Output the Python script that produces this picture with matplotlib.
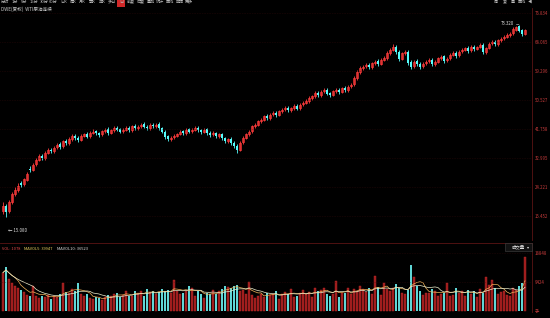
import pandas as pd
import matplotlib
matplotlib.use('Agg')
from matplotlib import pyplot as plt
from matplotlib.patches import Rectangle

plt.rcParams['font.family'] = ['Noto Sans CJK SC', 'DejaVu Sans']

# K线数据
opens = [17.0, 18.6, 16.9, 19.8, 22.1, 23.3, 25.3, 25.0, 26.4, 29.8,
         29.5, 31.1, 32.5, 33.7, 33.0, 34.6, 35.5, 35.1, 36.2, 37.1,
         36.5, 38.1, 37.5, 38.7, 39.6, 39.0, 38.5, 39.7, 40.2, 39.5,
         40.7, 41.1, 40.5, 40.1, 41.2, 41.7, 40.6, 41.5, 42.2, 41.7,
         41.1, 41.6, 42.2, 41.5, 42.7, 42.1, 42.6, 43.2, 42.5, 42.1,
         43.1, 42.7, 43.2, 42.1, 41.0, 39.5, 38.7, 39.2, 39.7, 40.2,
         41.1, 40.5, 41.7, 41.1, 41.6, 42.2, 41.5, 41.0, 41.7, 40.6,
         40.1, 40.7, 39.6, 40.2, 39.0, 38.1, 38.7, 37.5, 36.6, 35.5,
         37.7, 39.1, 40.2, 41.1, 42.7, 43.1, 44.2, 44.6, 45.7, 45.1,
         46.2, 46.7, 46.1, 47.2, 47.7, 48.2, 47.5, 48.1, 48.7, 48.0,
         49.2, 49.7, 50.2, 51.1, 51.7, 52.7, 52.0, 53.1, 53.7, 52.5,
         52.1, 53.2, 53.7, 53.0, 54.2, 53.5, 54.7, 55.3, 57.2, 59.1,
         60.2, 60.7, 61.2, 60.5, 61.7, 62.2, 61.5, 62.7, 63.2, 64.7,
         65.7, 66.7, 65.1, 63.0, 64.7, 65.0, 61.9, 60.7, 62.2, 61.5,
         60.7, 61.6, 62.2, 62.7, 61.5, 62.1, 63.2, 63.7, 62.5, 63.1,
         64.2, 64.7, 64.0, 65.2, 65.7, 66.2, 65.5, 66.7, 66.0, 66.6,
         67.2, 65.0, 66.2, 67.7, 68.2, 67.5, 68.7, 69.2, 69.7, 70.2,
         70.7, 71.8, 72.8, 71.6, 70.5]
closes = [18.5, 16.8, 19.6, 22.0, 23.4, 24.6, 24.9, 26.5, 28.1, 29.4,
          31.0, 32.4, 33.6, 32.9, 34.5, 35.4, 35.0, 36.1, 37.0, 36.4,
          38.0, 37.4, 38.6, 39.5, 38.9, 38.4, 39.6, 40.1, 39.4, 40.6,
          41.0, 40.4, 40.0, 41.1, 41.6, 40.5, 41.4, 42.1, 41.6, 41.0,
          41.5, 42.1, 41.4, 42.6, 42.0, 42.5, 43.1, 42.4, 42.0, 43.0,
          42.6, 43.1, 42.0, 40.9, 39.4, 38.6, 39.1, 39.6, 40.1, 41.0,
          40.4, 41.6, 41.0, 41.5, 42.1, 41.4, 40.9, 41.6, 40.5, 40.0,
          40.6, 39.5, 40.1, 38.9, 38.0, 38.6, 37.4, 36.5, 35.4, 37.6,
          39.0, 40.1, 41.0, 42.6, 43.0, 44.1, 44.5, 45.6, 45.0, 46.1,
          46.6, 46.0, 47.1, 47.6, 48.1, 47.4, 48.0, 48.6, 47.9, 49.1,
          49.6, 50.1, 51.0, 51.6, 52.6, 51.9, 53.0, 53.6, 52.4, 52.0,
          53.1, 53.6, 52.9, 54.1, 53.4, 54.6, 55.2, 57.1, 59.0, 60.1,
          60.6, 61.1, 60.4, 61.6, 62.1, 61.4, 62.6, 63.1, 64.6, 65.6,
          66.6, 65.0, 62.9, 64.6, 64.9, 61.8, 60.6, 62.1, 61.4, 60.6,
          61.5, 62.1, 62.6, 61.4, 62.0, 63.1, 63.6, 62.4, 63.0, 64.1,
          64.6, 63.9, 65.1, 65.6, 66.1, 65.4, 66.6, 65.9, 66.5, 67.1,
          64.9, 66.1, 67.6, 68.1, 67.4, 68.6, 69.1, 69.6, 70.1, 70.6,
          72.0, 72.6, 71.5, 70.4, 71.6]
highs = [19.8, 19.2, 20.3, 22.6, 24.2, 25.4, 25.9, 27.0, 28.8, 30.5,
         31.6, 33.0, 34.2, 34.3, 35.0, 36.0, 36.1, 36.7, 37.6, 37.7,
         38.5, 38.7, 39.2, 40.1, 40.3, 39.6, 40.1, 40.7, 40.8, 41.2,
         41.7, 41.6, 41.0, 41.6, 42.2, 42.3, 41.9, 42.7, 42.8, 42.1,
         42.0, 42.6, 42.7, 43.1, 43.2, 43.0, 43.7, 43.8, 43.0, 43.6,
         43.6, 43.7, 43.8, 42.5, 41.5, 40.0, 39.7, 40.2, 40.7, 41.5,
         41.6, 42.1, 42.2, 42.0, 42.7, 42.6, 41.9, 42.1, 42.2, 41.1,
         41.1, 41.0, 40.6, 40.6, 39.4, 39.1, 39.2, 38.0, 37.1, 38.1,
         39.5, 40.7, 41.5, 43.1, 43.6, 44.6, 45.1, 46.1, 46.2, 46.7,
         47.2, 47.3, 47.6, 48.1, 48.7, 48.8, 48.5, 49.2, 49.2, 49.6,
         50.2, 50.7, 51.6, 52.1, 53.2, 53.3, 53.5, 54.2, 54.3, 53.0,
         53.6, 54.2, 54.3, 54.6, 54.8, 55.1, 55.8, 57.7, 59.6, 60.7,
         61.2, 61.7, 61.8, 62.1, 62.7, 62.8, 63.1, 63.7, 65.2, 66.2,
         67.6, 67.2, 65.7, 65.1, 65.6, 65.6, 62.5, 62.7, 62.8, 62.0,
         62.0, 62.6, 63.2, 63.2, 62.5, 63.6, 64.1, 64.2, 63.5, 64.7,
         65.2, 65.3, 65.6, 66.1, 66.7, 66.8, 67.1, 67.2, 67.0, 67.7,
         67.7, 66.6, 68.1, 68.7, 68.8, 69.1, 69.7, 70.2, 70.7, 71.2,
         72.5, 73.0, 73.32, 72.0, 72.1]
lows = [16.2, 15.08, 16.3, 19.2, 21.5, 22.8, 24.1, 24.6, 26.0, 28.7,
        29.0, 30.6, 32.0, 32.3, 32.5, 34.1, 34.5, 34.6, 35.7, 35.8,
        36.0, 36.9, 37.0, 38.2, 38.4, 37.8, 38.0, 39.2, 38.9, 39.0,
        40.1, 39.9, 39.4, 39.6, 40.7, 40.0, 40.1, 41.0, 41.1, 40.5,
        40.6, 41.1, 40.9, 41.0, 41.5, 41.6, 42.1, 42.0, 41.4, 41.6,
        42.0, 42.2, 41.6, 40.4, 38.8, 38.0, 38.2, 38.7, 39.2, 39.8,
        39.9, 40.0, 40.5, 40.6, 41.1, 40.9, 40.3, 40.5, 40.0, 39.4,
        39.6, 39.0, 39.1, 38.4, 37.4, 37.6, 36.9, 35.9, 34.6, 35.0,
        37.2, 38.6, 39.6, 40.7, 42.1, 42.6, 43.7, 44.1, 44.5, 44.6,
        45.6, 45.5, 45.6, 46.7, 47.1, 46.9, 47.0, 47.6, 47.4, 47.5,
        48.7, 49.2, 49.7, 50.6, 51.2, 51.3, 51.5, 52.6, 51.9, 51.4,
        51.6, 52.7, 52.3, 52.5, 52.9, 53.0, 54.2, 54.9, 56.6, 58.5,
        59.6, 60.2, 59.8, 60.0, 61.2, 60.9, 61.0, 62.2, 62.7, 64.2,
        65.2, 64.4, 62.2, 62.5, 64.0, 61.2, 60.0, 60.2, 60.8, 59.9,
        60.2, 61.1, 61.7, 60.9, 60.9, 61.6, 62.7, 61.8, 61.9, 62.6,
        63.7, 63.3, 63.4, 64.7, 65.2, 64.8, 65.0, 65.3, 65.5, 66.1,
        64.3, 64.5, 65.8, 67.2, 66.9, 67.0, 68.2, 68.8, 69.2, 69.7,
        70.2, 71.3, 71.0, 69.9, 70.1]
volumes = [12500, 14200, 10500, 9000, 8200, 7400, 6800, 6200, 5200, 4800,
           8100, 4800, 4300, 5000, 4600, 5200, 4000, 4800, 4400, 5600,
           9000, 6200, 5800, 7000, 6500, 9200, 5600, 4800, 5400, 4200,
           3800, 4600, 4200, 3600, 4400, 5200, 4800, 5500, 6000, 4600,
           5200, 6500, 5000, 4800, 6600, 5800, 6600, 4800, 7000, 6200,
           6600, 5400, 6200, 7000, 6400, 6800, 5800, 10000, 6600, 5600,
           5800, 6600, 8200, 7600, 4800, 6400, 5600, 4200, 6000, 5400,
           6800, 5600, 6400, 7000, 8200, 7800, 7400, 8000, 8400, 6400,
           6800, 5600, 9400, 5200, 4200, 5000, 5600, 4600, 5800, 5200,
           5400, 6600, 4000, 5600, 6200, 5400, 7200, 4600, 5000, 5800,
           6800, 5400, 6200, 4600, 7600, 6400, 6800, 7400, 5600, 4800,
           5400, 9600, 4400, 6000, 5800, 7400, 5600, 7200, 6400, 8200,
           7000, 6200, 7400, 5400, 11500, 7800, 5200, 9000, 7000, 6600,
           7400, 8800, 7600, 6000, 5400, 6800, 15000, 11000, 8200, 6600,
           5200, 6000, 5800, 7200, 6400, 4800, 5600, 6000, 9000, 4800,
           5200, 7400, 5800, 6600, 5000, 6800, 5400, 6600, 4600, 7200,
           6000, 11000, 8600, 10000, 7400, 5600, 6200, 6400, 5200, 5000,
           7600, 6800, 8000, 9200, 17500]

price_ticks = [15.452, 24.221, 32.995, 41.758, 50.527, 59.296, 68.065, 76.834]
vol_ticks = [0, 9424, 18848]
vol_tick_labels = ['手', '9424', '18848']
toolbar = ['分时', '1分', '5分', '15分', '30分', '60分', '日K', '周K', '月K',
           '季K', '年K', '多日', '日', '前复', '后复', '叠加', '统计', '画线', '区间', '更多']

df = pd.DataFrame({'open': opens, 'close': closes, 'high': highs, 'low': lows, 'vol': volumes})
df['x'] = range(len(df))
df['up'] = df['close'] >= df['open']
df['ma5'] = df['vol'].rolling(5, min_periods=1).mean()
df['ma10'] = df['vol'].rolling(10, min_periods=1).mean()

RED = '#ff3c3c'
CYAN = '#54fcfc'
GRID = '#3a0c0c'
AXC = '#c83c3c'

fig = plt.figure(figsize=(5.5, 3.18), dpi=100, facecolor='black')
W, H = 550, 318
ax = fig.add_axes([0, 78 / H, 532 / W, 232 / H], facecolor='black')
axv = fig.add_axes([0, 6 / H, 532 / W, 69 / H], facecolor='black')

step = 8.769 / 29
ax.set_ylim(15.452 - 24 * step, 76.834 + 5 * step)
ax.set_xlim(-1, -1 + 532 / 3)
axv.set_xlim(-1, -1 + 532 / 3)
vstep = 9424 / 29
axv.set_ylim(18848 - 59 * vstep, 18848 + 10 * vstep)

# 主图K线
up = df[df['up']]
dn = df[~df['up']]
ax.vlines(up['x'], up['low'], up['high'], color=RED, lw=0.6)
ax.vlines(dn['x'], dn['low'], dn['high'], color=CYAN, lw=0.6)
ax.bar(up['x'], (up['close'] - up['open']).clip(lower=0.08), bottom=up['open'], width=0.62,
       facecolor='#3a0606', edgecolor=RED, lw=0.5)
ax.bar(dn['x'], (dn['open'] - dn['close']).clip(lower=0.08), bottom=dn['close'], width=0.62,
       color=CYAN, lw=0)

# 最高最低标注
imax = df['high'].idxmax()
imin = df['low'].idxmin()
ax.annotate('%.3f' % df['high'][imax], xy=(imax, df['high'][imax]), xytext=(imax - 1.8, df['high'][imax] + 0.3),
            color='#dddddd', fontsize=3.2, ha='right', va='center',
            arrowprops=dict(arrowstyle='-', color='#dddddd', lw=0.4))
ax.text(imin + 0.7, df['low'][imin] - 3.9, '← %.3f' % df['low'][imin], color='#dddddd',
        fontsize=3.2, ha='left', va='center')

# 坐标轴
for a in (ax, axv):
    a.yaxis.tick_right()
    a.tick_params(axis='y', length=0, pad=2, labelsize=3.1, labelcolor=AXC)
    a.set_xticks([])
    for s in ('left', 'bottom'):
        a.spines[s].set_visible(False)
    a.spines['right'].set_color('#5a1414')
    a.spines['right'].set_linewidth(0.6)
    a.spines['top'].set_color('#5a1414')
    a.spines['top'].set_linewidth(0.6)
ax.spines['top'].set_visible(False)
ax.set_yticks(price_ticks)
ax.set_yticklabels(['%.3f' % t for t in price_ticks])
for t in price_ticks:
    ax.axhline(t, color=GRID, lw=0.4, ls=(0, (1, 2)))

# 成交量
vu = df[df['up']]
vd = df[~df['up']]
axv.bar(vu['x'], vu['vol'], width=0.68, facecolor='#9a1c1c', edgecolor='#c02828', lw=0.3)
axv.bar(vd['x'], vd['vol'], width=0.68, color='#5fd6d6', lw=0)
axv.plot(df['x'], df['ma5'], color='#f2b45a', lw=0.5)
axv.plot(df['x'], df['ma10'], color='#eeeecc', lw=0.5)
axv.set_yticks(vol_ticks)
axv.set_yticklabels(vol_tick_labels)
for t in vol_ticks[1:]:
    axv.axhline(t, color=GRID, lw=0.4, ls=(0, (1, 2)))

# 文字
fig.text(2 / W, 1 - 249 / H, 'VOL: 1078', color='#e04848', fontsize=2.9, va='center')
fig.text(24 / W, 1 - 249 / H, 'MAVOL5: 39947', color='#e8d060', fontsize=2.9, va='center')
fig.text(57 / W, 1 - 249 / H, 'MAVOL10: 36523', color='#dddddd', fontsize=2.9, va='center')
fig.patches.append(Rectangle((505 / W, 1 - 251 / H), 27 / W, 8 / H, transform=fig.transFigure,
                             facecolor='#111111', edgecolor='#444444', lw=0.4))
fig.text(512 / W, 1 - 247 / H, '成交量', color='#dddddd', fontsize=3.2, va='center')
fig.text(528 / W, 1 - 247 / H, '▾', color='#dddddd', fontsize=3.0, va='center', ha='center')

fig.text(1 / W, 1 - 9 / H, 'DWE(复权)  WTI原油连续', color='#cccccc', fontsize=3.3, va='center')
for i, s in enumerate(toolbar):
    xx = 5 + i * 9.7
    if s == '日':
        fig.patches.append(Rectangle(((xx - 4) / W, 1 - 7 / H), 8 / W, 7 / H,
                                     transform=fig.transFigure, facecolor='#d02828', lw=0))
    fig.text(xx / W, 1 - 2 / H, s, color='#bbbbbb', fontsize=3.0, va='center', ha='center')
for i, s in enumerate(['周', '复', '叠', '画线', '◀']):
    fig.text((496 + i * 8.5) / W, 1 - 2 / H, s, color='#bbbbbb', fontsize=3.0, va='center', ha='center')

plt.savefig('out.png', dpi=100, facecolor='black')
